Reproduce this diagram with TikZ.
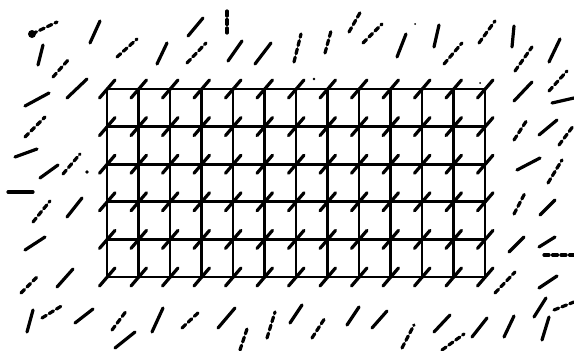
\documentclass[tikz,border=0pt]{standalone}
\usepackage{tikz}

\begin{document}
\begin{tikzpicture}[
  x=1pt, y=-1pt,
  gridline/.style={line width=2.7pt},
  tick/.style={line width=3.2pt, line cap=round},
  brokentick/.style={tick, dash pattern=on 5pt off 3.5pt},
  speck/.style={fill=black},
]
\useasboundingbox (0,0) rectangle (574,351);

% === Lattice (centre) ===
\foreach \i in {0,...,12}
  \draw[gridline] (107+31.5*\i, 89) -- (107+31.5*\i, 277);
\foreach \j in {0,...,5}
  \draw[gridline] (107, 89+37.6*\j) -- (485, 89+37.6*\j);

% Ticks at the lattice points
\foreach \i in {0,...,12}
  \foreach \j in {0,...,5}
    \draw[tick] (99.5+31.5*\i, 98+37.6*\j) -- (115+31.5*\i, 80+37.6*\j);

% === Scattered ticks, solid ===
\draw[tick] (38,65) -- (43,45);
\draw[tick] (90,43) -- (100,21);
\draw[tick] (157,64) -- (167,43);
\draw[tick] (188,36) -- (203,18);
\draw[tick] (228,61) -- (242,41);
\draw[tick] (255,64) -- (271,43);
\draw[tick] (25,106) -- (49,93);
\draw[tick] (67,98) -- (87,79);
\draw[tick] (15,157) -- (37,149);
\draw[tick] (40,178) -- (58,165);
\draw[tick] (8,192) -- (33,192);
\draw[tick] (67,217) -- (82,198);
\draw[tick] (25,250) -- (45,237);
\draw[tick] (57,287) -- (73,269);
\draw[tick] (27,332) -- (33,310);
\draw[tick] (75,323) -- (93,309);
\draw[tick] (115,348) -- (135,332);
\draw[tick] (152,332) -- (163,308);
\draw[tick] (218,328) -- (235,308);
\draw[tick] (397,57) -- (406,34);
\draw[tick] (434,47) -- (439,25);
\draw[tick] (512,47) -- (514,26);
\draw[tick] (549,62) -- (560,39);
\draw[tick] (514,101) -- (532,82);
\draw[tick] (552,103) -- (574,98);
\draw[tick] (539,135) -- (557,120);
\draw[tick] (517,170) -- (540,158);
\draw[tick] (540,215) -- (555,200);
\draw[tick] (509,252) -- (524,237);
\draw[tick] (539,247) -- (555,237);
\draw[tick] (539,288) -- (557,276);
\draw[tick] (534,317) -- (546,298);
\draw[tick] (542,340) -- (549,317);
\draw[tick] (290,323) -- (302,305);
\draw[tick] (347,325) -- (359,307);
\draw[tick] (372,328) -- (387,311);
\draw[tick] (434,332) -- (450,315);
\draw[tick] (472,337) -- (487,318);
\draw[tick] (504,337) -- (514,316);

% === Scattered ticks, broken ===
\draw[brokentick] (32,34) -- (57,22);
\draw[brokentick] (117,57) -- (137,39);
\draw[brokentick] (227,11) -- (227,36);
\draw[brokentick] (187,63) -- (206,43);
\draw[brokentick] (53,77) -- (69,59);
\draw[brokentick] (25,137) -- (45,117);
\draw[brokentick] (63,174) -- (80,154);
\draw[brokentick] (33,222) -- (50,201);
\draw[brokentick] (21,293) -- (38,276);
\draw[brokentick] (42,318) -- (63,305);
\draw[brokentick] (112,330) -- (127,310);
\draw[brokentick] (182,328) -- (200,311);
\draw[brokentick] (240,350) -- (247,329);
\draw[brokentick] (267,338) -- (275,312);
\draw[brokentick] (294,62) -- (301,34);
\draw[brokentick] (325,53) -- (331,31);
\draw[brokentick] (349,32) -- (361,11);
\draw[brokentick] (363,43) -- (382,24);
\draw[brokentick] (444,64) -- (462,43);
\draw[brokentick] (479,43) -- (495,21);
\draw[brokentick] (515,71) -- (532,47);
\draw[brokentick] (549,91) -- (567,71);
\draw[brokentick] (514,140) -- (527,120);
\draw[brokentick] (559,145) -- (574,125);
\draw[brokentick] (548,183) -- (562,160);
\draw[brokentick] (514,214) -- (525,193);
\draw[brokentick] (544,255) -- (574,255);
\draw[brokentick] (495,293) -- (515,272);
\draw[brokentick] (554,310) -- (574,302);
\draw[brokentick] (312,338) -- (325,318);
\draw[brokentick] (402,348) -- (414,325);
\draw[brokentick] (442,350) -- (464,334);

% Specks
\fill[speck] (32,34) circle (4pt);
\fill[speck] (87,172) circle (1.8pt);
\fill[speck] (415,24) circle (1pt);
\fill[speck] (314,79) circle (1.3pt);
\fill[speck] (480,83) circle (1pt);

\end{tikzpicture}
\end{document}
